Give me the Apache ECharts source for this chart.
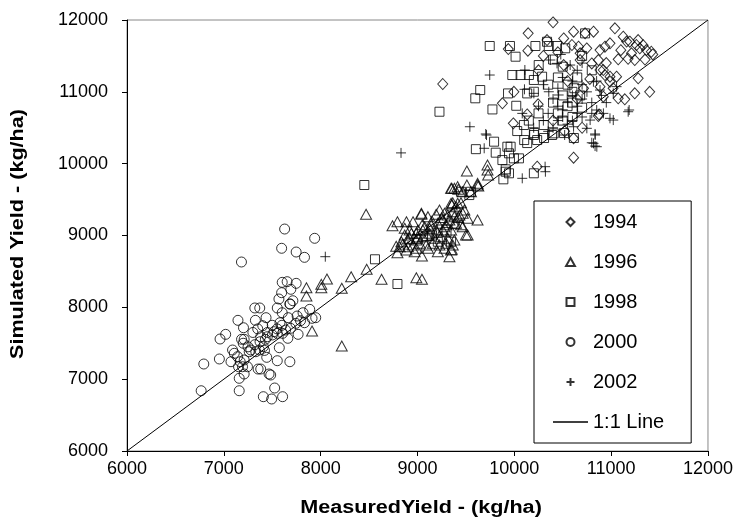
<!DOCTYPE html>
<html><head><meta charset="utf-8">
<script src="https://cdn.jsdelivr.net/npm/echarts@6/dist/echarts.min.js"></script>
<style>html,body{margin:0;padding:0;background:#fff}#c{width:736px;height:524px}</style>
</head><body><div id="c"></div>
<script>
const FONT = 'Liberation Sans, Arial, Helvetica, sans-serif';
const xTicks = [6000, 7000, 8000, 9000, 10000, 11000, 12000];
const yTicks = [6000, 7000, 8000, 9000, 10000, 11000, 12000];
const seriesNames = ['1994', '1996', '1998', '2000', '2002', '1:1 Line'];

const y1994 = [[10612,11837],[10731,11814],[10818,11837],[11039,11884],[11125,11767],[11193,11698],[11279,11721],[11261,11652],[11296,11605],[11364,11582],[11415,11558],[11210,11536],[11244,11443],[11073,11452],[10936,11628],[10988,11675],[10885,11582],[10748,11605],[10663,11628],[10595,11652],[10680,11443],[10800,11396],[10868,11443],[10885,11304],[10936,11234],[10988,11211],[11056,11211],[11279,11188],[11141,10896],[11244,10979],[11398,11001],[11073,10910],[10868,10663],[10612,10083],[10400,11967],[10143,11814],[10510,11744],[11175,11460],[10919,11304],[10988,11141],[10885,11072],[10875,10686],[10236,9958],[9938,11596],[10140,11572],[9877,10840],[9996,11001],[10246,10826],[10133,10686],[9990,10561],[9261,11109],[10338,11721],[10680,11536],[10577,11304],[10510,11373],[10715,11049],[10919,10933],[10612,10353],[11330,11650],[11430,11520],[11100,11580],[11160,11700],[10450,11550],[10300,11500],[10250,11300],[10550,11150],[10780,11180],[10650,10900],[10400,10600],[11020,11050],[10520,10450],[10700,10500],[10950,11400],[11350,11450]];

const y1996 = [[7911,7670],[7853,8273],[7853,8158],[8007,8320],[8007,8273],[8065,8394],[8218,8265],[8315,8426],[8475,8529],[8218,7462],[8629,8390],[8988,8412],[9046,8390],[8469,9295],[8742,9136],[8793,9192],[8886,9192],[8954,9192],[9040,9295],[9108,9262],[9193,9295],[9279,9309],[9354,9424],[9364,9331],[9381,9657],[9354,9657],[8834,8913],[8902,8844],[8988,8822],[9046,8714],[9210,8774],[9354,8807],[8793,8760],[8868,9007],[8937,9030],[9005,9076],[9074,9122],[9142,9146],[9210,9170],[9279,9122],[9347,9076],[8919,8961],[8988,8937],[9056,8983],[9125,9030],[9176,8961],[9244,8983],[9313,8961],[9381,8937],[8954,8868],[9022,8891],[9090,8868],[9159,8891],[9227,8868],[9296,8891],[9364,8868],[9381,9170],[9381,9262],[9330,9216],[9261,9076],[9193,9076],[9125,9100],[9056,9076],[8988,9030],[8919,9076],[8868,9100],[8817,8844],[8886,8798],[8971,8774],[9108,8822],[9279,8822],[9330,8705],[9510,9898],[9347,9657],[9415,9680],[9510,9703],[9620,9703],[9347,9448],[9415,9448],[9467,9309],[9518,9239],[9620,9216],[9040,9309],[9723,9981],[9723,9911],[9730,9842],[9621,9726],[9628,9689],[9422,9643],[9467,9609],[9552,9609],[9364,9456],[9449,9456],[9484,9355],[9433,9285],[9501,9007],[9518,9007],[9347,8798],[9227,9355],[9313,9285],[9261,9216],[9398,9170],[9467,9123],[8900,8950],[9000,8980],[9100,9000],[9200,9050],[9050,9150],[9150,9200],[8850,8880],[8780,8850],[9250,9250],[9300,9150],[9400,9400],[9420,9250],[9450,9150]];

const y1998 = [[9746,11638],[9955,11638],[10013,11489],[10218,11638],[10338,11697],[10356,11638],[10441,11638],[10526,11606],[10252,11373],[9979,11234],[10065,11234],[10151,11234],[10202,11165],[10287,11211],[9227,10723],[9648,11025],[9597,10910],[9774,10755],[9935,10978],[10020,10806],[10133,10978],[10202,11001],[10099,10538],[10202,10399],[10304,10538],[10407,10422],[10400,11450],[10500,11350],[10450,11200],[10550,11100],[10600,11000],[10500,10950],[10400,10850],[10550,10800],[10450,10700],[10600,10650],[10500,10600],[9603,10202],[9791,10306],[9808,10153],[9962,10236],[9945,10144],[9877,10050],[9911,9921],[9945,9866],[9887,9782],[9996,10074],[10048,10074],[10202,9866],[10030,10454],[10102,10329],[10133,10287],[10205,10426],[10236,10329],[10307,10357],[10390,10399],[10513,10426],[10615,10357],[9928,10236],[9449,9609],[9552,9609],[9535,9563],[10731,11814],[10700,11500],[10800,11300],[10650,11200],[10620,11050],[10680,10950],[10600,10850],[10700,10780],[8451,9703],[8561,8669],[8793,8325],[9210,8913],[9347,8913],[9911,9888],[9000,8950],[9150,9000],[9300,9050],[10350,11100],[10250,10700],[10150,10600]];

const y2000 = [[6766,6839],[6793,7211],[6954,7281],[6961,7559],[7019,7624],[7146,7819],[7203,7716],[7320,7991],[7371,7991],[7326,7819],[7436,7856],[7402,7744],[7552,7991],[7603,7925],[7682,8046],[7665,7856],[7580,7786],[7887,7972],[7818,7925],[7757,7879],[7792,7814],[7744,7777],[7833,7786],[7911,7847],[7949,7856],[7689,7708],[7638,7684],[7607,7638],[7552,7638],[7518,7661],[7501,7615],[7449,7591],[7429,7555],[7381,7591],[7374,7521],[7408,7452],[7367,7406],[7330,7382],[7279,7406],[7262,7382],[7183,7555],[7210,7555],[7090,7406],[7108,7360],[7074,7243],[7142,7313],[7169,7243],[7210,7267],[7152,7173],[7193,7173],[7244,7173],[7210,7072],[7159,7012],[7354,7141],[7381,7141],[7467,7072],[7484,7058],[7443,7304],[7552,7257],[7682,7243],[7573,7438],[7661,7569],[7767,7624],[7159,6839],[7408,6756],[7494,6724],[7607,6756],[7525,6877],[7628,9090],[7938,8961],[7597,8822],[7747,8770],[7833,8696],[7182,8631],[7603,8348],[7654,8357],[7747,8334],[7692,8251],[7597,8204],[7569,8116],[7713,8092],[7685,8046],[7300,7650],[7350,7700],[7500,7750],[7550,7700],[7450,7650],[7600,7750],[7250,7450],[7200,7500],[7320,7480],[7420,7400]];

const y2002 = [[8048,8705],[8830,10150],[9746,11234],[10109,11304],[10372,11443],[10441,11396],[10577,11373],[10105,11035],[10202,10979],[10082,10700],[10356,11001],[10458,10956],[9541,10514],[9713,10398],[9689,10214],[10082,9796],[10321,9888],[9705,10413],[10520,10399],[11186,10747],[10988,10631],[10835,10399],[10818,10283],[10852,10236],[10318,9958],[11176,10723],[11022,10607],[10920,10700],[10851,10747],[10783,10607],[10749,10492],[10612,10514],[11056,11072],[11022,10979],[10885,11025],[10817,11141],[10834,10413],[10800,10291],[10834,10245],[10400,10900],[10450,10800],[10500,10750],[10550,10850],[10600,10950],[10650,10800],[10700,10900],[10750,11000],[10650,10700],[10600,10600],[10500,10650],[10550,10550],[10450,10600],[10350,10700],[10700,10650],[10800,10850],[10900,10950],[10950,10850],[10700,11100],[10600,11150],[10500,11200],[10450,11050],[10800,10700],[10400,10500],[10300,10600],[10250,10800],[10350,10450],[10200,10500],[10300,11100],[10650,11300],[10480,11520],[10700,11400],[10850,11150]];

const oneToOne = [[6000,6000],[12000,12000]];

const hollow = {color: 'rgba(0,0,0,0)', borderColor: '#000', borderWidth: 1};
const SYM = {
  diamond: 'path://M5 0L10 5L5 10L0 5Z',
  triangle: 'path://M5 0L10 9L0 9Z',
  square: 'path://M0 0L10 0L10 10L0 10Z',
  circle: 'path://M0 5A5 5 0 1 1 10 5A5 5 0 1 1 0 5Z',
  plus: 'path://M0 5L10 5M5 0L5 10'
};
const LINE_ICON = 'path://M0 0L35 0L35 1.6L0 1.6Z';

function scatter(name, data, symbol, size) {
  return {name, type: 'scatter', data, symbol, symbolSize: size, itemStyle: hollow,
    emphasis: {disabled: true}, z: 3};
}

const axisCommon = {
  type: 'value', min: 6000, max: 12000, interval: 1000,
  axisLine: {onZero: false, lineStyle: {color: '#000', width: 1}},
  axisTick: {length: 5, lineStyle: {color: '#000'}},
  splitLine: {show: false},
};

const chart = echarts.init(document.getElementById('c'), null, {renderer: 'canvas'});
chart.setOption({
  animation: false,
  grid: {left: 127, right: 24, top: 20, bottom: 73, show: true, borderColor: '#888', borderWidth: 1},
  xAxis: Object.assign({}, axisCommon, {
    axisLabel: {color: '#000', fontSize: 18, fontFamily: FONT, margin: 9,
      formatter: v => xTicks.includes(v) ? String(v) : ''}
  }),
  yAxis: Object.assign({}, axisCommon, {
    axisLabel: {color: '#000', fontSize: 18, fontFamily: FONT, margin: 19,
      formatter: v => yTicks.includes(v) ? String(v) : ''}
  }),
  legend: {
    data: seriesNames.slice(0, 5).map(n => ({name: n})).concat([
      {name: '1:1 Line', icon: LINE_ICON, itemStyle: {color: '#000', borderWidth: 0}}
    ]),
    orient: 'vertical', left: 534, top: 201,
    itemWidth: 35, itemHeight: 8, itemGap: 20, symbolKeepAspect: true,
    padding: [11, 27, 11, 19],
    borderColor: '#000', borderWidth: 1, backgroundColor: '#fff',
    textStyle: {color: '#000', fontSize: 20, fontFamily: FONT, lineHeight: 20},
    selectedMode: false
  },
  graphic: [
    {type: 'text', x: 18, y: 234, rotation: Math.PI / 2, scaleX: 1.2,
      style: {text: 'Simulated Yield - (kg/ha)', font: 'bold 18px ' + FONT, fill: '#000',
        align: 'center', verticalAlign: 'middle', textAlign: 'center', textVerticalAlign: 'middle'}},
    {type: 'text', x: 421, y: 508, scaleX: 1.2,
      style: {text: 'MeasuredYield - (kg/ha)', font: 'bold 18px ' + FONT, fill: '#000',
        align: 'center', verticalAlign: 'middle', textAlign: 'center', textVerticalAlign: 'middle'}}
  ],
  series: [
    scatter('1994', y1994, SYM.diamond, [10, 11]),
    scatter('1996', y1996, SYM.triangle, [11, 10]),
    scatter('1998', y1998, SYM.square, 9),
    scatter('2000', y2000, SYM.circle, 10),
    scatter('2002', y2002, SYM.plus, 10),
    {name: '1:1 Line', type: 'line', data: oneToOne, symbol: 'none', showSymbol: false,
      lineStyle: {color: '#000', width: 1}, itemStyle: {color: '#000'}, z: 2, silent: true}
  ]
});
</script>
</body></html>
